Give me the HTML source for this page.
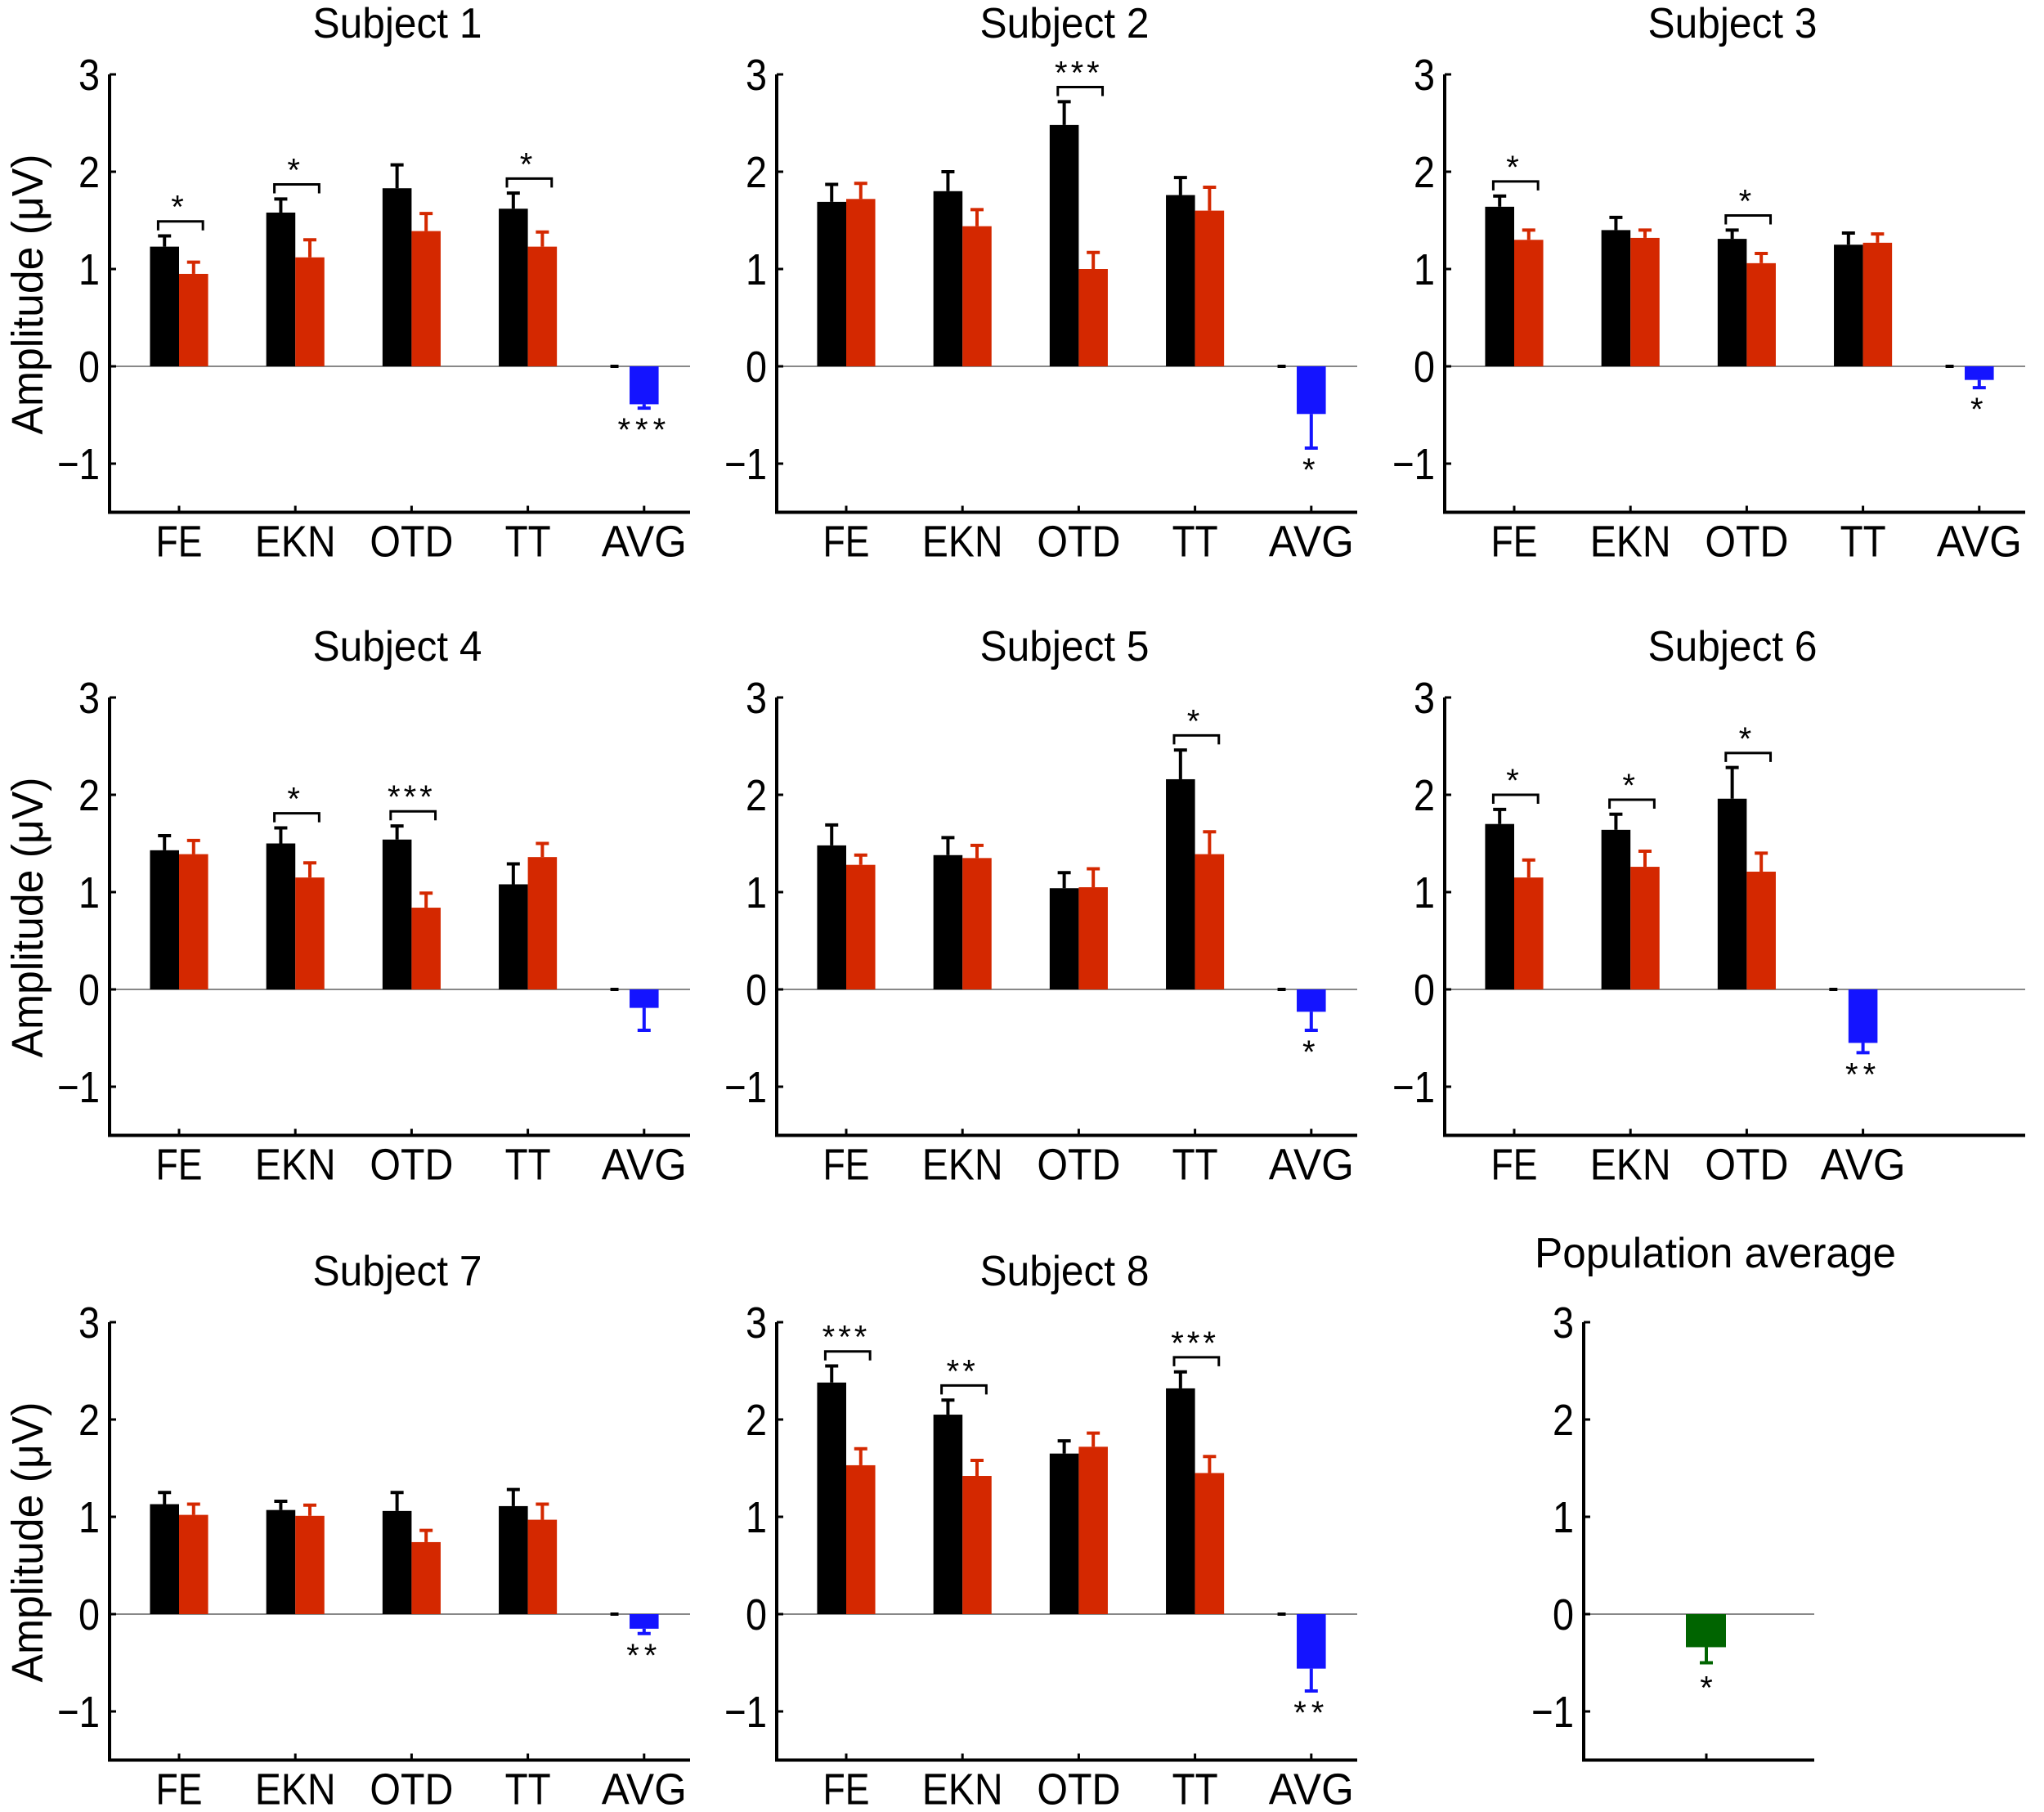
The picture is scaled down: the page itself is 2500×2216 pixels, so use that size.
<!DOCTYPE html>
<html><head><meta charset="utf-8"><style>
html,body{margin:0;padding:0;background:#fff;}
svg{display:block;}
text{font-family:"Liberation Sans",sans-serif;fill:#000;}
</style></head><body>
<svg id="chart" width="2500" height="2216" viewBox="0 0 2500 2216" xmlns="http://www.w3.org/2000/svg"></svg>
<script>
// ---- data ----
const subjectTitles = ["Subject 1","Subject 2","Subject 3","Subject 4","Subject 5","Subject 6","Subject 7","Subject 8"];
const categories5 = ["FE","EKN","OTD","TT","AVG"];
const categories6 = ["FE","EKN","OTD","AVG"];
const yTicks = [3,2,1,0,-1];
const yTickLabels = ["3","2","1","0","\u22121"];
// black (condition A) values and upper error per subject
const blackVals = [[1.23,1.58,1.83,1.62],[1.69,1.80,2.48,1.76],[1.64,1.40,1.31,1.25],[1.43,1.50,1.54,1.08],[1.48,1.38,1.04,2.16],[1.70,1.64,1.96],[1.13,1.07,1.06,1.11],[2.38,2.05,1.65,2.32]];
const blackErr  = [[1.34,1.72,2.07,1.78],[1.87,2.00,2.72,1.94],[1.75,1.53,1.40,1.37],[1.58,1.66,1.68,1.29],[1.69,1.56,1.20,2.46],[1.85,1.80,2.28],[1.25,1.16,1.25,1.28],[2.55,2.20,1.78,2.49]];
const redVals   = [[0.95,1.12,1.39,1.23],[1.72,1.44,1.00,1.60],[1.30,1.32,1.06,1.27],[1.39,1.15,0.84,1.36],[1.28,1.35,1.05,1.39],[1.15,1.26,1.21],[1.02,1.01,0.74,0.97],[1.53,1.42,1.72,1.45]];
const redErr    = [[1.07,1.30,1.57,1.38],[1.88,1.61,1.17,1.84],[1.40,1.40,1.16,1.36],[1.53,1.30,0.99,1.50],[1.38,1.48,1.24,1.62],[1.33,1.42,1.40],[1.13,1.12,0.86,1.13],[1.70,1.58,1.86,1.62]];
const pairSig   = [["*","*","","*"],["","","***",""],["*","","*",""],["","*","***",""],["","","","*"],["*","*","*"],["","","",""],["***","**","","***"]];
const avgVals = [-0.39,-0.49,-0.14,-0.19,-0.23,-0.55,-0.15,-0.56];
const avgErr  = [-0.43,-0.84,-0.22,-0.42,-0.42,-0.65,-0.20,-0.79];
const avgSig  = ["***","*","*","","*","**","**","**"];
const popVal = -0.34;
const popErr = -0.50;
const popSig = "*";

// ---- layout ----
const svg = document.getElementById('chart');
const NS = "http://www.w3.org/2000/svg";
const colX = [0,816,1633], rowY = [0,762,1526];
const UNIT = 119, CAT = 142.2;
const catWidths = {FE:57,EKN:99,OTD:102,TT:56,AVG:104,"":0};
function mk(tag, attrs, parent){ const e=document.createElementNS(NS,tag); for(const k in attrs) e.setAttribute(k,attrs[k]); (parent||svg).appendChild(e); return e; }
function txt(str, attrs, parent){ const e=mk('text',attrs,parent); e.textContent=str; return e; }

function drawAxes(g, left, right, zero, cats, catX){
  const yS = v => zero - v*UNIT;
  const bottom = yS(-1.5);
  const a = mk('line',{x1:left,y1:yS(3),x2:left,y2:bottom,stroke:'#000','stroke-width':4},g);
   
  const b = mk('line',{x1:left-2,y1:bottom,x2:right,y2:bottom,stroke:'#000','stroke-width':4},g);
   
  const z = mk('line',{x1:left,y1:zero,x2:right,y2:zero,stroke:'#888','stroke-width':2},g);
   
  yTicks.forEach((v,i)=>{
    mk('line',{x1:left,y1:yS(v),x2:left+8,y2:yS(v),stroke:'#000','stroke-width':3},g);
    const w = v<0 ? 52 : 26;
    const t = txt(yTickLabels[i],{x:left-12,y:yS(v)+19,'font-size':54,'text-anchor':'end',textLength:w,lengthAdjust:'spacingAndGlyphs'},g);
     
  });
  cats.forEach((c,i)=>{
    const x = catX(i);
    mk('line',{x1:x,y1:bottom,x2:x,y2:bottom-8,stroke:'#000','stroke-width':3},g);
    if(c){
      const t = txt(c,{x:x,y:bottom+54,'font-size':54,'text-anchor':'middle',textLength:catWidths[c],lengthAdjust:'spacingAndGlyphs'},g);
       
    }
  });
  return yS;
}

function bar(g, x0, x1, yS, v, color, name){
  const y0 = yS(0), y1 = yS(v);
  const r = mk('rect',{x:x0,y:Math.min(y0,y1),width:x1-x0,height:Math.abs(y1-y0),fill:color},g);
   
}
function err(g, x, yS, v, e, color){
  mk('line',{x1:x,y1:yS(v),x2:x,y2:yS(e),stroke:color,'stroke-width':4},g);
  mk('line',{x1:x-8,y1:yS(e),x2:x+8,y2:yS(e),stroke:color,'stroke-width':4},g);
}

subjectTitles.forEach((title,s)=>{
  const ox = colX[s%3], oy = rowY[Math.floor(s/3)];
  const g = mk('g',{});
   
  const left = 134+ox, right = 844+ox, zero = 448+oy;
  const cats = blackVals[s].length===3 ? categories6 : categories5;
  const catX = i => left + 85 + i*CAT;
  const yS = drawAxes(g,left,right,zero,cats,catX);
  const tt = txt(title,{x:486+ox,y:46+oy,'font-size':52,'text-anchor':'middle',textLength:207,lengthAdjust:'spacingAndGlyphs'},g);
   
  if(s%3===0){
    const cy = 360+oy;
    const yt = txt("Amplitude (\u03bcV)",{x:52,y:cy,'font-size':54,'text-anchor':'middle',textLength:343,lengthAdjust:'spacingAndGlyphs',transform:'rotate(-90 52 '+cy+')'},g);
     
  }
  const hw = CAT*0.25;
  blackVals[s].forEach((v,i)=>{
    const x = catX(i);
    bar(g,x-hw,x,yS,v,'#000','bar-black-'+cats[i]);
    bar(g,x,x+hw,yS,redVals[s][i],'#d42800','bar-red-'+cats[i]);
    err(g,x-hw/2,yS,v,blackErr[s][i],'#000');
    err(g,x+hw/2,yS,redVals[s][i],redErr[s][i],'#d42800');
    const sig = pairSig[s][i];
    if(sig){
      const top = Math.max(blackErr[s][i],redErr[s][i]) + 0.15;
      const by = yS(top);
      mk('path',{d:`M${x-hw*0.72},${by+11} V${by} H${x+hw*0.82} V${by+11}`,fill:'none',stroke:'#000','stroke-width':3},g);
      const st = txt(sig,{x:x,y:by-4,'font-size':40,'text-anchor':'middle','letter-spacing':4},g);
       
    }
  });
  const ai = cats.length-1, ax = catX(ai);
  mk('line',{x1:ax-0.29*CAT,y1:zero,x2:ax-0.22*CAT,y2:zero,stroke:'#000','stroke-width':4},g);
  bar(g,ax-hw/2,ax+hw/2,yS,avgVals[s],'#1414ff','bar-avg');
  err(g,ax,yS,avgVals[s],avgErr[s],'#1414ff');
  if(avgSig[s]){
    const st = txt(avgSig[s],{x:ax,y:yS(avgErr[s])+40,'font-size':40,'text-anchor':'middle','letter-spacing':6},g);
     
  }
});

// population panel
(function(){
  const g = mk('g',{});
   
  const left = 1937, right = 2219, zero = 1974;
  const catX = i => 2087;
  const yS = drawAxes(g,left,right,zero,[""],catX);
  const tt = txt("Population average",{x:2098,y:1550,'font-size':52,'text-anchor':'middle',textLength:442,lengthAdjust:'spacingAndGlyphs'},g);
   
  bar(g,2062,2111,yS,popVal,'#006400','bar-population');
  err(g,2087,yS,popVal,popErr,'#006400');
  const st = txt(popSig,{x:2087,y:yS(popErr)+44,'font-size':40,'text-anchor':'middle'},g);
   
})();
</script>
</body></html>
